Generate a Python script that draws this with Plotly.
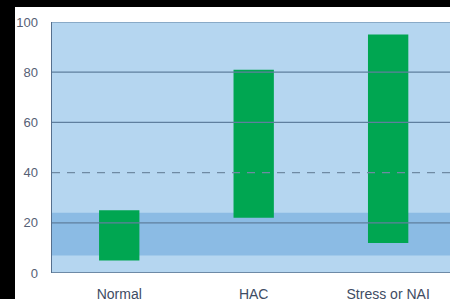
import plotly.graph_objects as go

categories = ["Normal", "HAC", "Stress or NAI"]
range_low = [5, 22, 12]
range_high = [25, 81, 95]
band_low = 7
band_high = 24
threshold = 40
grid_values = [20, 60, 80, 100]
y_ticks = [0, 20, 40, 60, 80, 100]

W, H = 450, 299
ML, MR, MT, MB = 52, 0, 22, 26
pw, ph = W - ML - MR, H - MT - MB

fig = go.Figure()
fig.add_trace(go.Bar(
    x=categories,
    y=[h - l for l, h in zip(range_low, range_high)],
    base=range_low,
    width=0.3,
    marker=dict(color="#00a651", line=dict(width=0)),
    hoverinfo="skip",
))

shapes = []
# reference band
shapes.append(dict(type="rect", xref="paper", yref="y", x0=0, x1=1,
                   y0=band_low, y1=band_high, fillcolor="#8bbbe4",
                   line=dict(width=0), layer="below"))
# grid lines above bars
for g in grid_values:
    shapes.append(dict(type="line", xref="paper", yref="y", x0=0, x1=1,
                       y0=g, y1=g, line=dict(color="#5f7f9e", width=1.2),
                       layer="above"))
shapes.append(dict(type="line", xref="paper", yref="y", x0=0, x1=1,
                   y0=threshold, y1=threshold,
                   line=dict(color="#6f8aa3", width=1.2, dash="8px,7px"),
                   layer="above"))
# black frame strips
shapes.append(dict(type="rect", xref="paper", yref="paper",
                   x0=-ML / pw - 0.01, x1=-(ML - 15) / pw,
                   y0=-MB / ph - 0.01, y1=1 + MT / ph + 0.01,
                   fillcolor="black", line=dict(width=0)))
shapes.append(dict(type="rect", xref="paper", yref="paper",
                   x0=-ML / pw - 0.01, x1=1.01,
                   y0=1 + (MT - 7) / ph, y1=1 + MT / ph + 0.01,
                   fillcolor="black", line=dict(width=0)))

fig.update_layout(
    width=W, height=H,
    margin=dict(l=ML, r=MR, t=MT, b=MB, autoexpand=False),
    paper_bgcolor="white",
    plot_bgcolor="#b5d6f0",
    showlegend=False,
    shapes=shapes,
    font=dict(family="Liberation Sans, Arial, sans-serif", color="#4a5a72"),
    xaxis=dict(type="category", range=[-0.5, 2.46], showgrid=False,
               zeroline=False, showline=False, ticks="",
               tickfont=dict(size=14, color="#3e4c63"),
               ticklabelstandoff=11, fixedrange=True, automargin=False),
    yaxis=dict(range=[0, 100], tickvals=y_ticks, showgrid=False,
               zeroline=False, showline=True, linecolor="#56708e",
               linewidth=1.5, mirror=False, ticks="",
               tickfont=dict(size=13, color="#556075"),
               ticklabelstandoff=10, fixedrange=True, automargin=False),
)
# bottom axis line
fig.add_shape(type="line", xref="paper", yref="y", x0=0, x1=1, y0=0, y1=0,
              line=dict(color="#56708e", width=1.5), layer="above")

fig.write_html(
    "out.html",
    config={"displayModeBar": False, "staticPlot": True},
    post_script="document.body.style.margin='0';document.body.style.padding='0';document.body.style.background='black';document.body.style.overflow='hidden';",
)
